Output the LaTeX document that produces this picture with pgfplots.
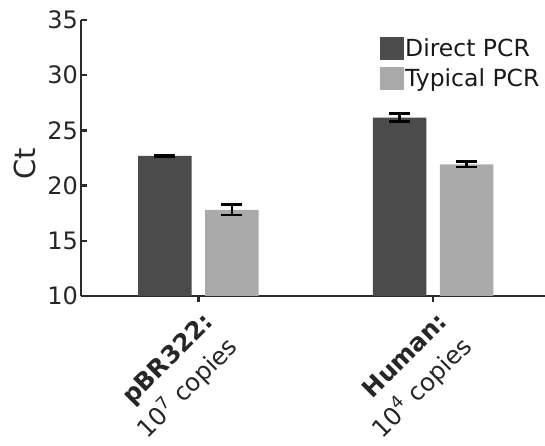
\documentclass[border=0pt]{standalone}
\usepackage{fontspec}
\setmainfont{DejaVu Sans}
\usepackage{pgfplots}
\pgfplotsset{compat=1.18}

\definecolor{directgray}{HTML}{4B4B4B}
\definecolor{typicalgray}{HTML}{AAAAAA}
\definecolor{axisgray}{HTML}{2B2B2B}

\begin{document}
\begin{tikzpicture}
\begin{axis}[
  scale only axis,
  width=464pt, height=276pt,
  ymin=10, ymax=35,
  xmin=-0.5, xmax=1.476,
  ytick={10,15,20,25,30,35},
  xtick={0,1},
  xticklabels={{\textbf{pBR322:}\\10\textsuperscript{7} copies},
               {\textbf{Human:}\\10\textsuperscript{4} copies}},
  axis x line*=bottom, axis y line*=left,
  axis line style={line width=2.6pt, axisgray, -},
  tick style={line width=2.4pt, axisgray},
  major tick length=6pt,
  tick align=inside,
  /pgf/number format/assume math mode=true,
  tick label style={font=\fontsize{24}{28}\selectfont, text=black!85},
  yticklabel style={inner sep=2pt, xshift=-1pt},
  xticklabel style={rotate=45, anchor=north east, align=right,
    font=\fontsize{24.5}{35}\selectfont, inner sep=0pt, xshift=-4pt, yshift=-8pt},
  ylabel={Ct},
  ylabel style={font=\fontsize{29}{32}\selectfont, text=black!85,
    at={(axis description cs:-0.1207,0.48)}, anchor=center},
  ybar=13.5pt, bar width=53.5pt,
  clip=false,
  legend style={at={(axis cs:0.771,33.49)}, anchor=north west,
    draw=none, fill=none, inner sep=0pt, row sep=7pt,
    font=\fontsize{23.5}{28}\selectfont, text=black!90,
    nodes={inner sep=1.5pt}},
  legend cell align=left,
  legend image code/.code={\fill[#1] (0pt,-11.5pt) rectangle (24pt,11.5pt);},
  error bars/error bar style={line width=2.6pt, black},
  error bars/error mark options={rotate=90, line width=2.6pt, mark size=10.5pt, black},
]
\addplot[fill=directgray, draw=none,
  error bars/.cd, y dir=both, y explicit]
  coordinates {(0,22.7) +- (0,0.05) (1,26.15) +- (0,0.36)};
\addplot[fill=typicalgray, draw=none,
  error bars/.cd, y dir=both, y explicit]
  coordinates {(0,17.8) +- (0,0.47) (1,21.93) +- (0,0.24)};
\legend{Direct PCR, Typical PCR}
\coordinate (sw) at (rel axis cs:0,0);
\coordinate (ne) at (rel axis cs:1,1);
\end{axis}
\pgfresetboundingbox
\path ([shift={(-81pt,-150pt)}]sw) rectangle ([shift={(0pt,20pt)}]ne);
\end{tikzpicture}
\end{document}
